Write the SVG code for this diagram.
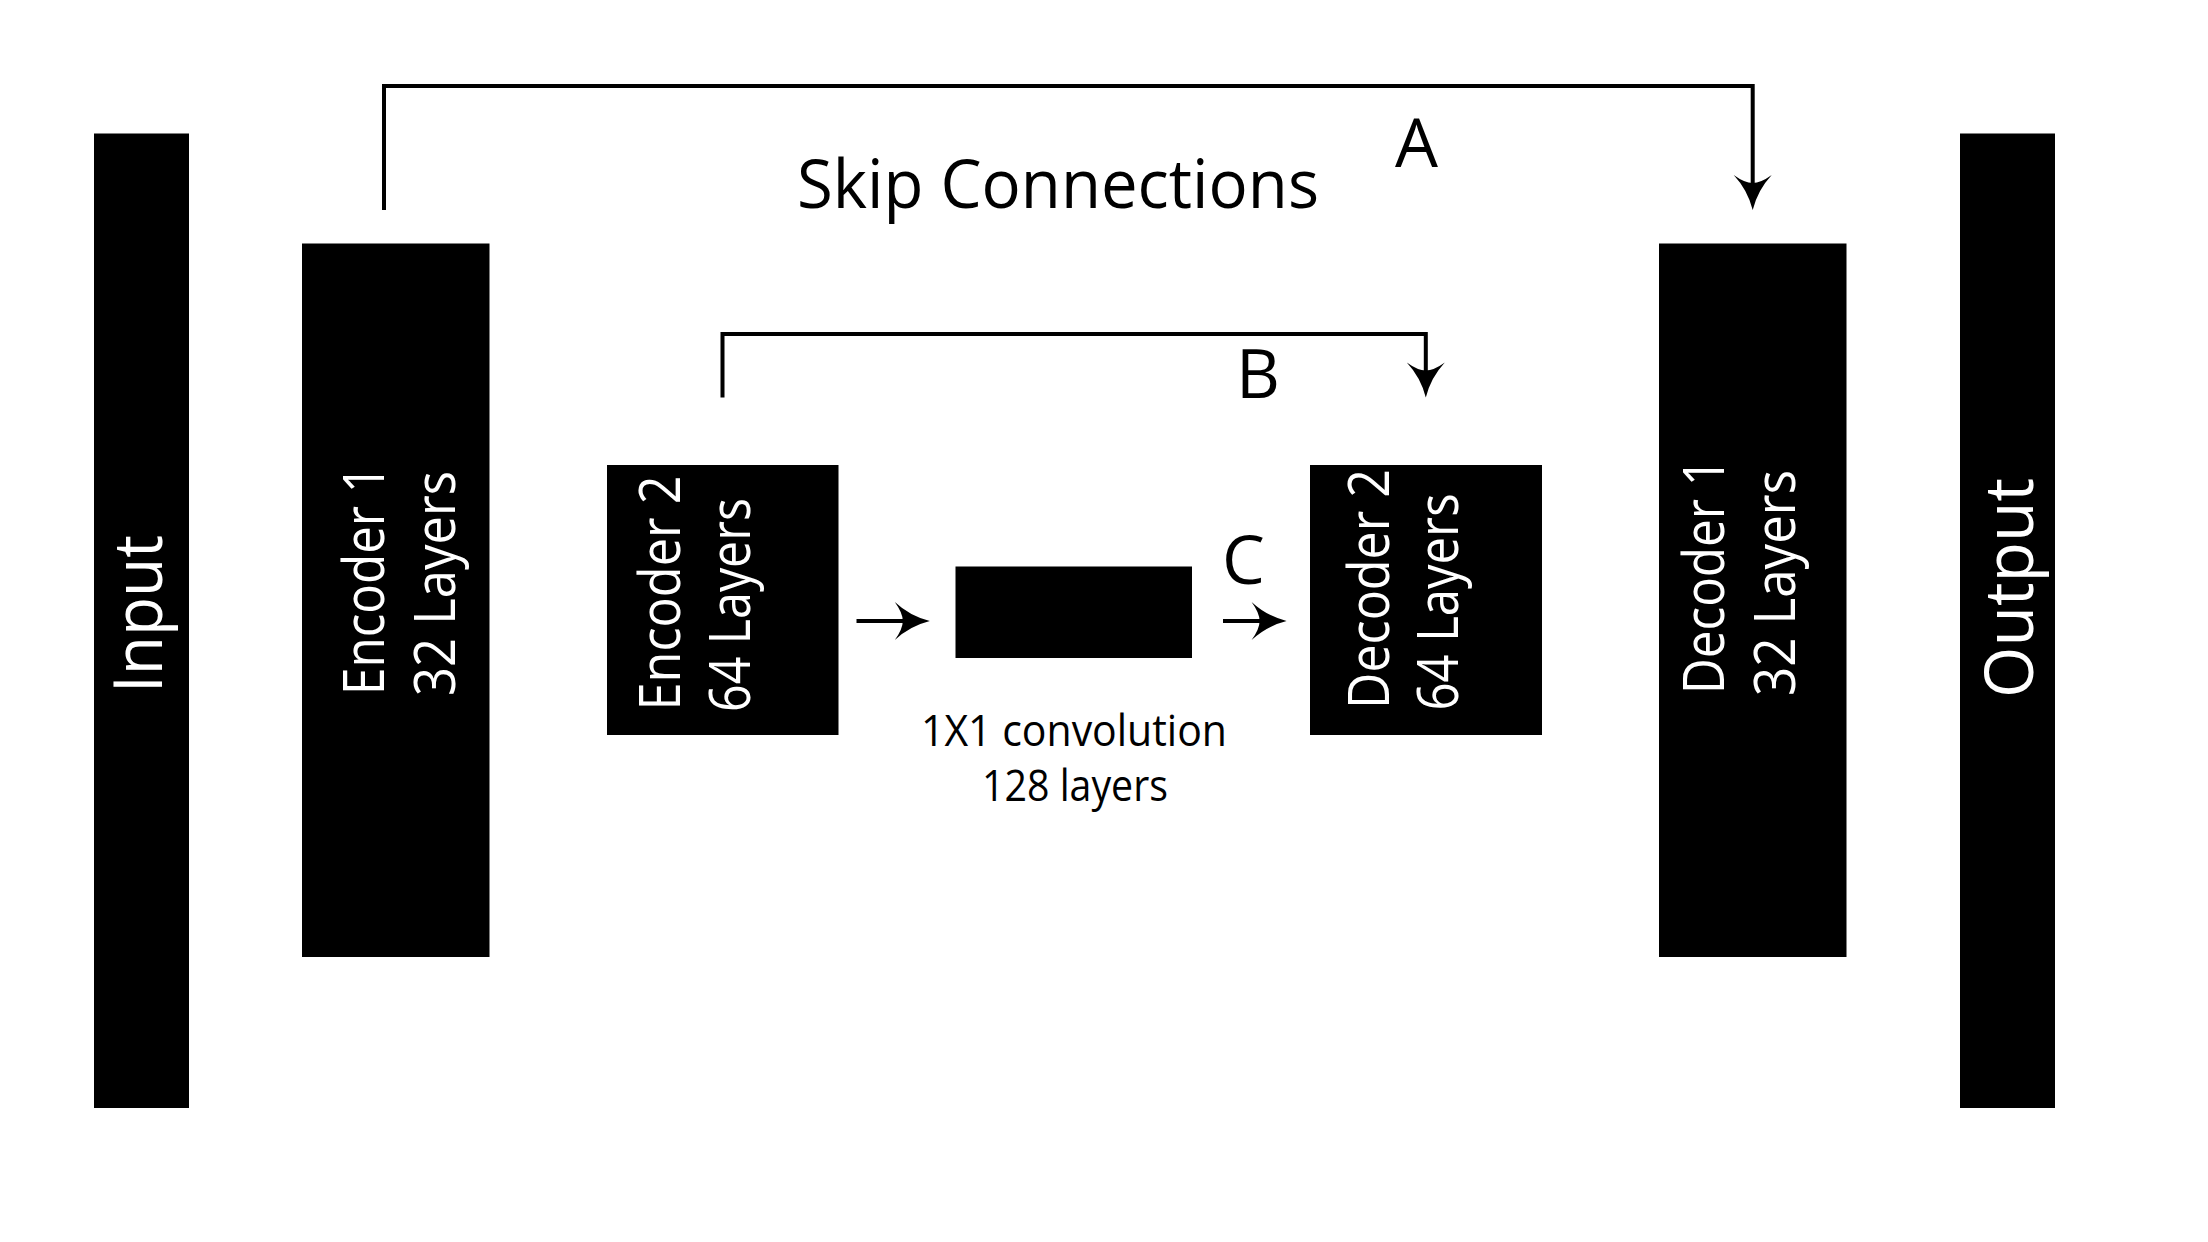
<svg xmlns="http://www.w3.org/2000/svg" xmlns:xlink="http://www.w3.org/1999/xlink" width="2208" height="1242" viewBox="0 0 2208 1242">
  <style>
    .box { fill: #000; }
    .lbl { fill: #fff; font-family: "Open Sans", "Noto Sans", "Liberation Sans", sans-serif; font-size: 56px; }
    .big { fill: #fff; font-family: "Open Sans", "Noto Sans", "Liberation Sans", sans-serif; font-size: 67px; }
    .cap { fill: #000; font-family: "Open Sans", "Noto Sans", "Liberation Sans", sans-serif; font-size: 68px; }
    .sm { fill: #000; font-family: "Open Sans", "Noto Sans", "Liberation Sans", sans-serif; font-size: 43px; }
    .wire { fill: none; stroke: #000; stroke-width: 4; }
  </style>
  <defs>
    <path id="ah" d="M0,0 Q-20,-5 -35,-19 Q-27,-8 -27,0 Q-27,8 -35,19 Q-20,5 0,0 Z" fill="#000"/>
  </defs>
  <rect width="2208" height="1242" fill="#fff"/>

  <g id="connectors">
    <path class="wire" d="M384,210 V86 H1752.7 V185"/>
    <use xlink:href="#ah" href="#ah" transform="translate(1752.7,210) rotate(90)"/>
    <path class="wire" d="M722.5,397.5 V334 H1425.8 V372"/>
    <use xlink:href="#ah" href="#ah" transform="translate(1425.8,397.5) rotate(90)"/>
    <path class="wire" d="M856.5,621 H905"/>
    <use xlink:href="#ah" href="#ah" transform="translate(929.8,621)"/>
    <path class="wire" d="M1223,621 H1262"/>
    <use xlink:href="#ah" href="#ah" transform="translate(1286.6,621)"/>
  </g>

  <g id="input">
    <rect class="box" x="94" y="133.5" width="95" height="974.5"/>
    <text class="big" transform="translate(161.7,693) rotate(-90)" textLength="158" lengthAdjust="spacingAndGlyphs">Input</text>
  </g>
  <g id="encoder1">
    <rect class="box" x="302" y="243.5" width="187.5" height="713.5"/>
    <text class="lbl" transform="translate(384.3,695) rotate(-90)" textLength="230" lengthAdjust="spacingAndGlyphs">Encoder 1</text>
    <text class="lbl" transform="translate(455,696) rotate(-90)" textLength="225" lengthAdjust="spacingAndGlyphs">32 Layers</text>
  </g>
  <g id="encoder2">
    <rect class="box" x="607" y="465" width="231.5" height="270"/>
    <text class="lbl" transform="translate(680,710.5) rotate(-90)" textLength="235" lengthAdjust="spacingAndGlyphs">Encoder 2</text>
    <text class="lbl" transform="translate(750,712) rotate(-90)" textLength="214" lengthAdjust="spacingAndGlyphs">64 Layers</text>
  </g>
  <g id="bottleneck">
    <rect class="box" x="955.5" y="566.5" width="236.5" height="91.5"/>
    <text class="sm" x="1074" y="746" text-anchor="middle" textLength="306" lengthAdjust="spacingAndGlyphs">1X1 convolution</text>
    <text class="sm" x="1075" y="801" text-anchor="middle" textLength="186" lengthAdjust="spacingAndGlyphs">128 layers</text>
  </g>
  <g id="decoder2">
    <rect class="box" x="1310" y="465" width="232" height="270"/>
    <text class="lbl" transform="translate(1389.3,709) rotate(-90)" textLength="240" lengthAdjust="spacingAndGlyphs">Decoder 2</text>
    <text class="lbl" transform="translate(1458.3,710.5) rotate(-90)" textLength="217" lengthAdjust="spacingAndGlyphs">64 Layers</text>
  </g>
  <g id="decoder1">
    <rect class="box" x="1659" y="243.5" width="187.5" height="713.5"/>
    <text class="lbl" transform="translate(1724,694) rotate(-90)" textLength="236" lengthAdjust="spacingAndGlyphs">Decoder 1</text>
    <text class="lbl" transform="translate(1795,696) rotate(-90)" textLength="226" lengthAdjust="spacingAndGlyphs">32 Layers</text>
  </g>
  <g id="output">
    <rect class="box" x="1960" y="133.5" width="95" height="974.5"/>
    <text class="big" transform="translate(2033,698) rotate(-90)" textLength="220" lengthAdjust="spacingAndGlyphs">Output</text>
  </g>

  <g id="labels">
    <text class="cap" x="797" y="208" textLength="522" lengthAdjust="spacingAndGlyphs">Skip Connections</text>
    <text class="cap" x="1395" y="167">A</text>
    <text class="cap" x="1236" y="398">B</text>
    <text class="cap" x="1222" y="584">C</text>
  </g>
</svg>
